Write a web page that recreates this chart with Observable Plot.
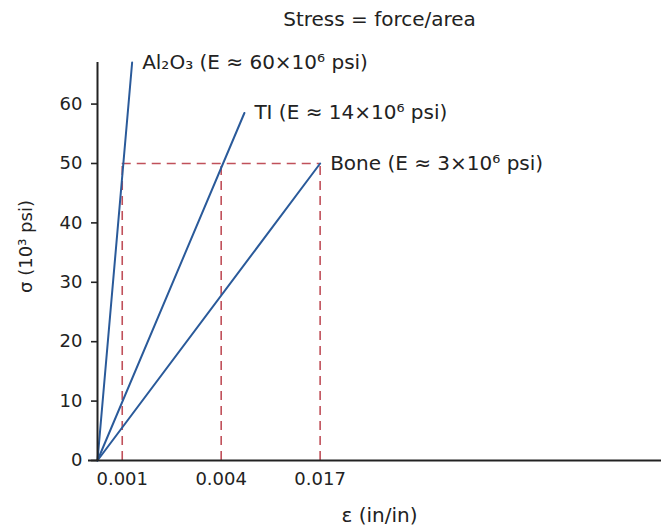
<!DOCTYPE html>
<html>
<head>
<meta charset="utf-8">
<script src="https://cdn.jsdelivr.net/npm/d3@7"></script>
<script src="https://cdn.jsdelivr.net/npm/@observablehq/plot@0.6"></script>
<style>
  html, body { margin: 0; padding: 0; background: #fff; }
</style>
</head>
<body>
<div id="chart"></div>
<script>
// ---- data ----
const materials   = ["Al₂O₃", "TI", "Bone"];
const moduli      = [60, 14, 3];               // E (×10⁶ psi)
const refStrain   = [0.001, 0.004, 0.017];     // strain at reference stress
const endStrain   = [0.0013, 0.00705, 0.017];  // strain at end of drawn line
const endStress   = [67, 58.5, 50];            // stress at end of drawn line (10³ psi)
const refStress   = 50;                        // 10³ psi
const strainTicks = [0.001, 0.004, 0.017];
const stressTicks = [0, 10, 20, 30, 40, 50, 60];

// schematic (non-linear) strain axis: each tick is one equal step
const axisSteps = [0, 0.25, 1.25, 2.25];
const warp = d3.scaleLinear().domain([0, ...strainTicks]).range(axisSteps);

const lineRows = materials.flatMap((m, i) => [
  {m, strain: 0, stress: 0},
  {m, strain: endStrain[i], stress: endStress[i]}
]);
const labelRows = materials.map((m, i) => ({
  m, strain: endStrain[i], stress: endStress[i],
  label: `${m} (E ≈ ${moduli[i]}×10⁶ psi)`
}));
const tickLabel = new Map(strainTicks.map(s => [warp(s), String(s)]));

const blue = "#2a5a9a";
const red = "#c0505a";
const ink = "#222";

const chart = Plot.plot({
  width: 661,
  height: 526,
  marginLeft: 97,
  marginRight: 0,
  marginTop: 62,
  marginBottom: 66,
  style: {fontFamily: "'DejaVu Sans', sans-serif", background: "#fff", color: ink},
  x: {domain: [0, 5.7], axis: null, label: null},
  y: {domain: [0, 67], axis: null, label: null},
  marks: [
    // dashed guide lines
    Plot.ruleX(refStrain, {x: d => warp(d), y1: 0, y2: refStress, stroke: red, strokeWidth: 1.6, strokeDasharray: "9,6"}),
    Plot.ruleY([refStress], {x1: warp(d3.min(refStrain)), x2: warp(d3.max(refStrain)), stroke: red, strokeWidth: 1.6, strokeDasharray: "9,6"}),
    // stress–strain lines
    Plot.line(lineRows, {x: d => warp(d.strain), y: "stress", z: "m", stroke: blue, strokeWidth: 2}),
    Plot.text(labelRows, {x: d => warp(d.strain), y: "stress", text: "label", textAnchor: "start", lineAnchor: "middle", dx: 10, fontSize: 20, fill: ink}),
    // axes
    Plot.ruleY([0], {insetLeft: -9, stroke: ink, strokeWidth: 2}),
    Plot.ruleX([0], {stroke: ink, strokeWidth: 2}),
    Plot.axisY(stressTicks, {label: null, tickSize: 6, tickPadding: 9, fontSize: 18, stroke: ink, strokeWidth: 1.6, fill: ink}),
    Plot.axisX(strainTicks.map(warp), {label: null, tickSize: 0, tickPadding: 12, fontSize: 18, fill: ink, tickFormat: d => tickLabel.get(d)}),
    // titles
    Plot.text(["Stress = force/area"], {frameAnchor: "top", lineAnchor: "middle", dy: -43, fontSize: 20, fill: ink}),
    Plot.text(["ε (in/in)"], {frameAnchor: "bottom", lineAnchor: "middle", dy: 55, fontSize: 20, fill: ink}),
    Plot.text(["σ (10³ psi)"], {frameAnchor: "left", textAnchor: "middle", lineAnchor: "middle", rotate: -90, dx: -71, dy: -15, fontSize: 18, fill: ink})
  ]
});
document.getElementById("chart").appendChild(chart);
</script>
</body>
</html>
